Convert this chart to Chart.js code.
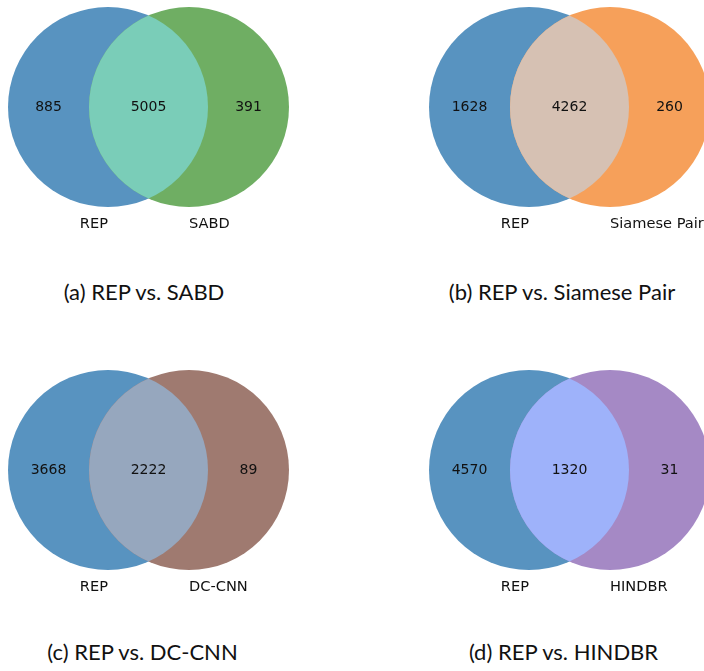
<!DOCTYPE html>
<html><head><meta charset="utf-8">
<script src="https://cdn.jsdelivr.net/npm/chart.js@4"></script>
<style>
html,body{margin:0;padding:0;background:#fff;width:704px;height:671px;overflow:hidden;position:relative}
canvas{position:absolute;display:block}
.cap{position:absolute;font-family:Lato,"Open Sans",sans-serif;font-size:22px;line-height:24px;color:#111;transform:translateX(-50%);white-space:nowrap}
</style></head><body>
<script>
// ---- data ----
const setA = ['REP', 'REP', 'REP', 'REP'];
const setB = ['SABD', 'Siamese Pair', 'DC-CNN', 'HINDBR'];
const onlyA = [885, 1628, 3668, 4570];
const both = [5005, 4262, 2222, 1320];
const onlyB = [391, 260, 89, 31];
const captions = ['(a) REP vs. SABD', '(b) REP vs. Siamese Pair', '(c) REP vs. DC-CNN', '(d) REP vs. HINDBR'];

// ---- styling / layout ----
const colA = ['#5893c0', '#5893c0', '#5893c0', '#5893c0'];
const colB = ['#6fae63', '#f6a05a', '#9f7a70', '#a589c5'];
const colAB = ['#7acdb8', '#d6c1b3', '#96a7be', '#9eb2fa'];
const panels = [
  {left: 0, top: 0, w: 300, h: 240, cx: 148.5, cy: 107, capX: 144, capY: 292},
  {left: 400, top: 0, w: 304, h: 240, cx: 169.5, cy: 107, capX: 562, capY: 292},
  {left: 0, top: 360, w: 300, h: 240, cx: 148.5, cy: 110, capX: 142.5, capY: 652},
  {left: 400, top: 360, w: 304, h: 240, cx: 169.5, cy: 110, capX: 563.5, capY: 652}
];
const PX = 100;          // pixels per venn unit
const R = 1.0;           // circle radius (venn units)
const D = 0.405;         // half distance between centres
const labelX = [-1.0, 0, 1.0]; // subset label positions (venn units)

const vennPlugin = {
  id: 'venn',
  beforeDatasetsDraw(chart) {
    const i = chart.options.plugins.venn.idx;
    const ctx = chart.ctx, xs = chart.scales.x, ys = chart.scales.y;
    const ax = xs.getPixelForValue(-D), bx = xs.getPixelForValue(D), y0 = ys.getPixelForValue(0);
    const r = xs.getPixelForValue(R) - xs.getPixelForValue(0);
    ctx.save();
    ctx.fillStyle = colA[i];
    ctx.beginPath(); ctx.arc(ax, y0, r, 0, Math.PI * 2); ctx.fill();
    ctx.fillStyle = colB[i];
    ctx.beginPath(); ctx.arc(bx, y0, r, 0, Math.PI * 2); ctx.fill();
    ctx.beginPath(); ctx.arc(ax, y0, r, 0, Math.PI * 2); ctx.clip();
    ctx.fillStyle = colAB[i];
    ctx.beginPath(); ctx.arc(bx, y0, r, 0, Math.PI * 2); ctx.fill();
    ctx.restore();
  },
  afterDatasetsDraw(chart) {
    const i = chart.options.plugins.venn.idx;
    const ctx = chart.ctx, xs = chart.scales.x, ys = chart.scales.y;
    ctx.save();
    ctx.fillStyle = '#111';
    ctx.font = '14px "DejaVu Sans"';
    ctx.textAlign = 'center'; ctx.textBaseline = 'middle';
    const vals = [onlyA[i], both[i], onlyB[i]];
    chart.getDatasetMeta(0).data.forEach((pt, k) => {
      ctx.fillText(String(vals[k]), pt.x, pt.y);
    });
    // set labels below the circles
    ctx.font = '14.6px "DejaVu Sans"';
    const ly = ys.getPixelForValue(-R * 1.1);
    ctx.textBaseline = 'top';
    ctx.textAlign = 'right';
    ctx.fillText(setA[i], xs.getPixelForValue(-D), ly);
    ctx.textAlign = 'left';
    ctx.fillText(setB[i], xs.getPixelForValue(D), ly);
    ctx.restore();
  }
};

panels.forEach((p, i) => {
  const cv = document.createElement('canvas');
  cv.width = p.w; cv.height = p.h;
  cv.style.left = p.left + 'px'; cv.style.top = p.top + 'px';
  cv.style.width = p.w + 'px'; cv.style.height = p.h + 'px';
  document.body.appendChild(cv);
  const cap = document.createElement('div');
  cap.className = 'cap';
  cap.textContent = captions[i];
  cap.style.left = p.capX + 'px';
  cap.style.top = (p.capY - 12) + 'px';
  document.body.appendChild(cap);

  new Chart(cv, {
    type: 'scatter',
    data: {
      datasets: [{
        data: labelX.map(x => ({x: x, y: 0})),
        pointRadius: 0, pointHoverRadius: 0
      }]
    },
    options: {
      responsive: false, animation: false, devicePixelRatio: 1,
      layout: {padding: 0},
      events: [],
      scales: {
        x: {type: 'linear', display: false, min: -p.cx / PX, max: (p.w - p.cx) / PX},
        y: {type: 'linear', display: false, min: -(p.h - p.cy) / PX, max: p.cy / PX}
      },
      plugins: {legend: {display: false}, tooltip: {enabled: false}, venn: {idx: i}}
    },
    plugins: [vennPlugin]
  });
});
</script>
</body></html>
